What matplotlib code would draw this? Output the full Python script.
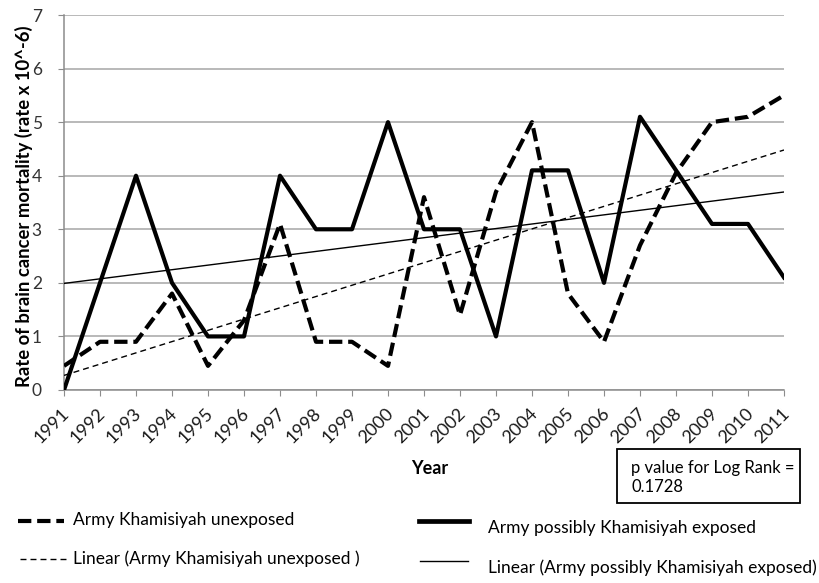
import numpy as np
import matplotlib
matplotlib.use("Agg")
import matplotlib.pyplot as plt
import matplotlib.transforms as mtransforms
from matplotlib.lines import Line2D
from matplotlib.patches import Rectangle

plt.rcParams["font.family"] = ["Lato", "DejaVu Sans"]

years = list(range(1991, 2012))
unexposed = [0.45, 0.9, 0.9, 1.8, 0.45, 1.3, 3.1, 0.9, 0.9, 0.45, 3.6,
             1.4, 3.7, 5.0, 1.8, 0.9, 2.7, 4.05, 5.0, 5.1, 5.5]
exposed = [0.0, 2.0, 4.0, 2.0, 1.0, 1.0, 4.0, 3.0, 3.0, 5.0, 3.0,
           3.0, 1.0, 4.1, 4.1, 2.0, 5.1, 4.1, 3.1, 3.1, 2.1]
labels = ["Army Khamisiyah unexposed", "Army possibly Khamisiyah exposed",
          "Linear (Army Khamisiyah unexposed )", "Linear (Army possibly Khamisiyah exposed)"]
note = ["p value for Log Rank =", "0.1728"]

W, H = 819, 583
fig = plt.figure(figsize=(W / 100, H / 100), dpi=100)
ax = fig.add_axes([64 / W, 1 - 390 / H, 720 / W, 375 / H])

x = np.arange(len(years))
# Excel-style linear trendlines
pu = np.polyfit(x, unexposed, 1)
pe = np.polyfit(x, exposed, 1)

THICK_DASH = (3.2, 1.4)
THIN_DASH = (4.3, 2.9)
ax.plot(x, exposed, color="black", lw=3.0, zorder=4)
ax.plot(x, unexposed, color="black", lw=3.0, dashes=THICK_DASH, zorder=4)
ax.plot(x, np.polyval(pe, x), color="black", lw=1.0, zorder=3)
ax.plot(x, np.polyval(pu, x), color="black", lw=1.0, dashes=THIN_DASH, zorder=3)

ax.set_xlim(0, len(years) - 1)
ax.set_ylim(0, 7)
ax.set_yticks(range(0, 8))
ax.set_xticks(x)
ax.set_xticklabels(years, rotation=45, ha="right", va="center", rotation_mode="anchor")
ax.tick_params(axis="x", length=4, color="#8c8c8c", labelsize=13, pad=11, labelcolor="#1a1a1a")
ax.tick_params(axis="y", length=4, color="#8c8c8c", labelsize=12.5, pad=12, labelcolor="#333333")
shift = mtransforms.ScaledTranslation(3 / 100, 0, fig.dpi_scale_trans)
for lab in ax.get_xticklabels():
    lab.set_transform(lab.get_transform() + shift)
ax.grid(axis="y", color="#a6a6a6", lw=1.1)
ax.set_axisbelow(True)
for sp in ["top", "right"]:
    ax.spines[sp].set_visible(False)
for sp in ["left", "bottom"]:
    ax.spines[sp].set_color("#8c8c8c")
    ax.spines[sp].set_linewidth(1.1)

fig.text(24 / W, 1 - 206 / H, "Rate of brain cancer mortality (rate x 10^-6)",
         rotation=90, fontsize=13.3, fontweight="bold", ha="center", va="center")
fig.text(430 / W, 1 - 469 / H, "Year", fontsize=13, fontweight="bold", ha="center", va="center")

# p value box
fig.add_artist(Rectangle((617 / W, 1 - 503 / H), 183 / W, 54 / H, transform=fig.transFigure,
                         fc="white", ec="black", lw=1.3))
fig.text(631 / W, 1 - 468 / H, note[0], fontsize=12, ha="left", va="center")
fig.text(631 / W, 1 - 487 / H, note[1], fontsize=12, ha="left", va="center")

# legend drawn by hand to match the two-column layout
leg = [
    (18, 64, 521, 73, 520, dict(lw=3.0, dashes=THICK_DASH)),
    (419, 469, 521, 488, 528, dict(lw=3.4)),
    (20, 67, 559, 73, 559, dict(lw=1.0, dashes=THIN_DASH)),
    (420, 468, 561, 488, 568, dict(lw=1.0)),
]
for (x0, x1, ly, tx, ty, st), lab in zip(leg, labels):
    fig.add_artist(Line2D([x0 / W, x1 / W], [1 - ly / H, 1 - ly / H], color="black", **st))
    fig.text(tx / W, 1 - ty / H, lab, fontsize=12.5, ha="left", va="center")

fig.savefig("out.png", dpi=100)
